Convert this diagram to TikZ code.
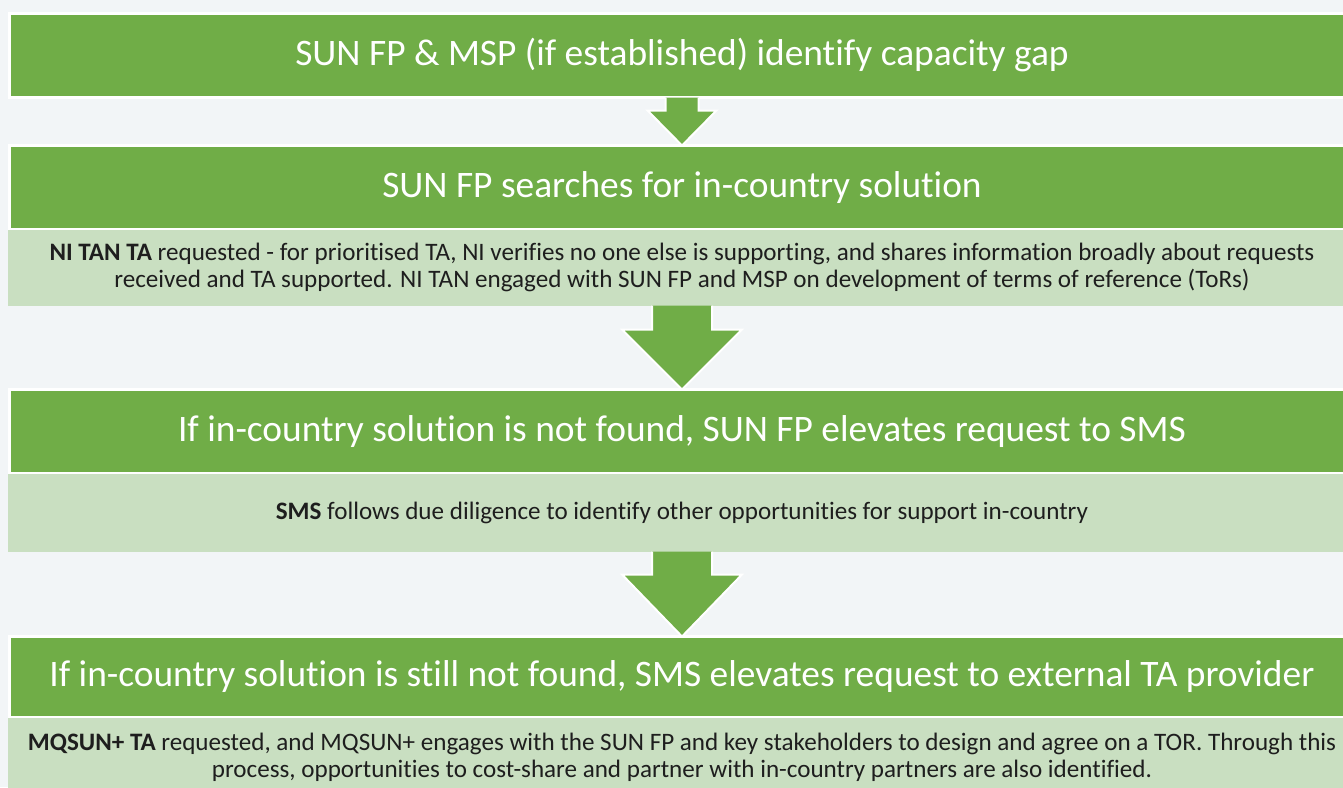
\documentclass[tikz,border=0pt]{standalone}
\usepackage{fontspec}
\setmainfont{Carlito}[Ligatures=NoCommon]
\usetikzlibrary{positioning,calc}
\definecolor{stagegreen}{HTML}{70AD47}
\definecolor{notegreen}{HTML}{C9DFC1}
\definecolor{pagebg}{HTML}{F2F5F7}
\definecolor{notetext}{HTML}{1E1E1E}

\begin{document}
\begin{tikzpicture} [x=1pt, y=-1pt,
        stage/.style={draw=white, line width=3pt, fill=stagegreen, rectangle, text=white, minimum width=1345pt, minimum height=84pt, outer sep=0pt, font=\fontsize{37.4}{44}\selectfont},
        note/.style={fill=notegreen, rectangle, text=notetext, minimum width=1348pt, outer sep=0pt, align=center, font=\fontsize{25.1}{27}\selectfont},
        flowarrow/.style={fill=stagegreen, draw=white, line width=2pt, line join=miter},
        node distance=0pt ]
    \useasboundingbox (0,0) rectangle (1343,787);
    \fill[pagebg] (0,0) rectangle (1343,787);
    \clip (0,0) rectangle (1343,787);

    \node[stage] (s1) at (682,55.5) {SUN FP \& MSP (if established) identify capacity gap};
    \node[stage] (s2) at (682,187.5) {SUN FP searches for in-country solution};
    \node[note, minimum height=76pt, below=of s2] (n2) {\textbf{NI TAN TA} requested - for prioritised TA, NI verifies no one else is supporting, and shares information broadly about requests\\received and TA supported. NI TAN engaged with SUN FP and MSP on development of terms of reference (ToRs)};
    \node[stage] (s3) at (682,431.5) {If in-country solution is not found, SUN FP elevates request to SMS};
    \node[note, minimum height=78pt, below=of s3] (n3) {\textbf{SMS} follows due diligence to identify other opportunities for support in-country};
    \node[stage, minimum height=81pt] (s4) at (682,677) {If in-country solution is still not found, SMS elevates request to external TA provider};
    \node[note, minimum height=80pt, below=of s4] (n4) {\textbf{MQSUN+ TA} requested, and MQSUN+ engages with the SUN FP and key stakeholders to design and agree on a TOR. Through this\\process, opportunities to cost-share and partner with in-country partners are also identified.};

    % block arrows between the steps
    \filldraw[flowarrow] ($(s1.south)+(16.5,0)$) -- ($(s2.north)+(16.5,-35)$) -- ($(s2.north)+(34.5,-35)$) -- (s2.north) -- ($(s2.north)+(-34.5,-35)$) -- ($(s2.north)+(-16.5,-35)$) -- ($(s1.south)+(-16.5,0)$);
    \filldraw[flowarrow] ($(n2.south)+(30,0)$) -- ($(s3.north)+(30,-60)$) -- ($(s3.north)+(60,-60)$) -- (s3.north) -- ($(s3.north)+(-60,-60)$) -- ($(s3.north)+(-30,-60)$) -- ($(n2.south)+(-30,0)$);
    \filldraw[flowarrow] ($(n3.south)+(30,0)$) -- ($(s4.north)+(30,-62)$) -- ($(s4.north)+(60,-62)$) -- (s4.north) -- ($(s4.north)+(-60,-62)$) -- ($(s4.north)+(-30,-62)$) -- ($(n3.south)+(-30,0)$);
\end{tikzpicture}
\end{document}
